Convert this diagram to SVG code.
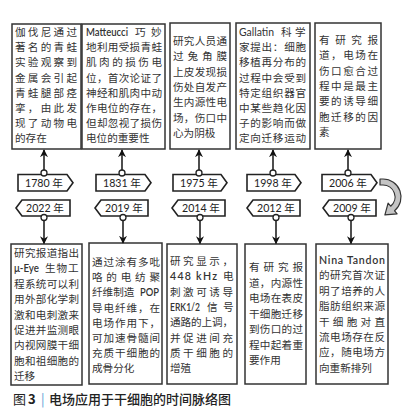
<svg xmlns="http://www.w3.org/2000/svg" width="410" height="417" viewBox="0 0 410 417">
<defs>
<style>
.box{fill:#fff;stroke:#333;stroke-width:1.5}
.t{font-family:Lato,"Noto Sans CJK SC",sans-serif;font-size:10.6px;fill:#333}
.b{font-weight:600}
.tag{fill:#fff;stroke:#222;stroke-width:1.6;stroke-linejoin:miter}
.yr{font-family:Lato,"Noto Sans CJK SC",sans-serif;font-size:10.6px;fill:#222;text-anchor:middle}
.ln{stroke:#222;stroke-width:1.6;fill:none}
.dot{fill:#fff;stroke:#222;stroke-width:1.3}
.cap{font-family:"Noto Sans CJK SC",sans-serif;font-size:13px;fill:#222}
</style>
<marker id="ah" viewBox="0 0 10 10" refX="9" refY="5" markerWidth="8" markerHeight="8" markerUnits="userSpaceOnUse" orient="auto">
<path d="M0,0 L10,5 L0,10 L3,5 z" fill="#111"/>
</marker>
</defs>
<rect width="410" height="417" fill="#fff"/>

<!-- top boxes -->
<g id="n1780">
<rect class="box" x="12" y="24" width="69" height="125"/>
<text class="t" x="15" y="36" textLength="62" lengthAdjust="spacing">伽伐尼通过</text>
<text class="t" x="15" y="51.2" textLength="62" lengthAdjust="spacing">著名的青蛙</text>
<text class="t" x="15" y="66.4" textLength="62" lengthAdjust="spacing">实验观察到</text>
<text class="t" x="15" y="81.6" textLength="62" lengthAdjust="spacing">金属会引起</text>
<text class="t" x="15" y="96.8" textLength="62" lengthAdjust="spacing">青蛙腿部痉</text>
<text class="t" x="15" y="112" textLength="62" lengthAdjust="spacing">挛，由此发</text>
<text class="t" x="15" y="127.2" textLength="62" lengthAdjust="spacing">现了动物电</text>
<text class="t" x="15" y="142.4">的存在</text>
</g>
<g id="n1831">
<rect class="box" x="82" y="24" width="83" height="125"/>
<text class="t b" x="86" y="36" textLength="42" lengthAdjust="spacingAndGlyphs">Matteucci</text>
<text class="t" x="135" y="36">巧</text>
<text class="t" x="151" y="36">妙</text>
<text class="t" x="86" y="51.2" textLength="76" lengthAdjust="spacing">地利用受损青蛙</text>
<text class="t" x="86" y="66.4" textLength="76" lengthAdjust="spacing">肌肉的损伤电</text>
<text class="t" x="86" y="81.6" textLength="76" lengthAdjust="spacing">位，首次论证了</text>
<text class="t" x="86" y="96.8" textLength="76" lengthAdjust="spacing">神经和肌肉中动</text>
<text class="t" x="86" y="112" textLength="76" lengthAdjust="spacing">作电位的存在，</text>
<text class="t" x="86" y="127.2" textLength="76" lengthAdjust="spacing">但却忽视了损伤</text>
<text class="t" x="86" y="142.4">电位的重要性</text>
</g>
<g id="n1975">
<rect class="box" x="170" y="23" width="60" height="126"/>
<text class="t" x="173" y="45" textLength="54" lengthAdjust="spacing">研究人员通</text>
<text class="t" x="173" y="60.3" textLength="54" lengthAdjust="spacing">过兔角膜</text>
<text class="t" x="173" y="75.6" textLength="54" lengthAdjust="spacing">上皮发现损</text>
<text class="t" x="173" y="90.9" textLength="54" lengthAdjust="spacing">伤处自发产</text>
<text class="t" x="173" y="106.2" textLength="54" lengthAdjust="spacing">生内源性电</text>
<text class="t" x="173" y="121.5" textLength="54" lengthAdjust="spacing">场，伤口中</text>
<text class="t" x="173" y="136.8">心为阴极</text>
</g>
<g id="n1998">
<rect class="box" x="236" y="23" width="74" height="126"/>
<text class="t" x="239" y="36" textLength="35" lengthAdjust="spacingAndGlyphs">Gallatin</text>
<text class="t" x="281" y="36">科</text>
<text class="t" x="295" y="36">学</text>
<text class="t" x="239" y="51.2" textLength="67" lengthAdjust="spacing">家提出：细胞</text>
<text class="t" x="239" y="66.4" textLength="67" lengthAdjust="spacing">移植再分布的</text>
<text class="t" x="239" y="81.6" textLength="67" lengthAdjust="spacing">过程中会受到</text>
<text class="t" x="239" y="96.8" textLength="67" lengthAdjust="spacing">特定组织器官</text>
<text class="t" x="239" y="112" textLength="67" lengthAdjust="spacing">中某些趋化因</text>
<text class="t" x="239" y="127.2" textLength="67" lengthAdjust="spacing">子的影响而做</text>
<text class="t" x="239" y="142.4" textLength="67" lengthAdjust="spacing">定向迁移运动</text>
</g>
<g id="n2006">
<rect class="box" x="315" y="23" width="66" height="126"/>
<text class="t" x="319" y="44" textLength="59" lengthAdjust="spacing">有研究报</text>
<text class="t" x="319" y="59.3" textLength="59" lengthAdjust="spacing">道，电场在</text>
<text class="t" x="319" y="74.6" textLength="59" lengthAdjust="spacing">伤口愈合过</text>
<text class="t" x="319" y="89.9" textLength="59" lengthAdjust="spacing">程中是最主</text>
<text class="t" x="319" y="105.2" textLength="59" lengthAdjust="spacing">要的诱导细</text>
<text class="t" x="319" y="120.5" textLength="59" lengthAdjust="spacing">胞迁移的因</text>
<text class="t" x="319" y="135.8">素</text>
</g>

<!-- bottom boxes -->
<g id="n2022">
<rect class="box" x="11" y="244" width="71" height="141"/>
<text class="t" x="14" y="257" textLength="65" lengthAdjust="spacing">研究报道指出</text>
<text class="t b" x="14" y="272.4" textLength="25" lengthAdjust="spacingAndGlyphs">μ-Eye</text>
<text class="t" x="45" y="272.4">生</text>
<text class="t" x="56.5" y="272.4">物</text>
<text class="t" x="68" y="272.4">工</text>
<text class="t" x="14" y="287.8" textLength="65" lengthAdjust="spacing">程系统可以利</text>
<text class="t" x="14" y="303.2" textLength="65" lengthAdjust="spacing">用外部化学刺</text>
<text class="t" x="14" y="318.6" textLength="65" lengthAdjust="spacing">激和电刺激来</text>
<text class="t" x="14" y="334" textLength="65" lengthAdjust="spacing">促进并监测眼</text>
<text class="t" x="14" y="349.4" textLength="65" lengthAdjust="spacing">内视网膜干细</text>
<text class="t" x="14" y="364.8" textLength="65" lengthAdjust="spacing">胞和祖细胞的</text>
<text class="t" x="14" y="380.2">迁移</text>
</g>
<g id="n2019">
<rect class="box" x="89" y="243" width="73" height="141"/>
<text class="t" x="92" y="266" textLength="68" lengthAdjust="spacing">通过涂有多吡</text>
<text class="t" x="92" y="281.2" textLength="68" lengthAdjust="spacing">咯的电纺聚</text>
<text class="t" x="92" y="296.4">纤维制造</text>
<text class="t b" x="140" y="296.4" textLength="19" lengthAdjust="spacingAndGlyphs">POP</text>
<text class="t" x="92" y="311.6" textLength="68" lengthAdjust="spacing">导电纤维，在</text>
<text class="t" x="92" y="326.8" textLength="68" lengthAdjust="spacing">电场作用下，</text>
<text class="t" x="92" y="342" textLength="68" lengthAdjust="spacing">可加速骨髓间</text>
<text class="t" x="92" y="357.2" textLength="68" lengthAdjust="spacing">充质干细胞的</text>
<text class="t" x="92" y="372.4">成骨分化</text>
</g>
<g id="n2014">
<rect class="box" x="167" y="244" width="70" height="140"/>
<text class="t" x="170" y="265" textLength="63" lengthAdjust="spacing">研究显示，</text>
<text class="t b" x="170" y="280.3" textLength="47" lengthAdjust="spacing">448 kHz</text>
<text class="t" x="223" y="280.3">电</text>
<text class="t" x="170" y="295.6" textLength="63" lengthAdjust="spacing">刺激可诱导</text>
<text class="t b" x="170" y="310.9" textLength="30" lengthAdjust="spacingAndGlyphs">ERK1/2</text>
<text class="t" x="207" y="310.9">信</text>
<text class="t" x="223" y="310.9">号</text>
<text class="t" x="170" y="326.2" textLength="63" lengthAdjust="spacing">通路的上调，</text>
<text class="t" x="170" y="341.5" textLength="63" lengthAdjust="spacing">并促进间充</text>
<text class="t" x="170" y="356.8" textLength="63" lengthAdjust="spacing">质干细胞的</text>
<text class="t" x="170" y="372.1">增殖</text>
</g>
<g id="n2012">
<rect class="box" x="245" y="244" width="61" height="140"/>
<text class="t" x="249" y="271" textLength="54" lengthAdjust="spacing">有研究报</text>
<text class="t" x="249" y="286.5" textLength="54" lengthAdjust="spacing">道，内源性</text>
<text class="t" x="249" y="302" textLength="54" lengthAdjust="spacing">电场在表皮</text>
<text class="t" x="249" y="317.5" textLength="54" lengthAdjust="spacing">干细胞迁移</text>
<text class="t" x="249" y="333" textLength="54" lengthAdjust="spacing">到伤口的过</text>
<text class="t" x="249" y="348.5" textLength="54" lengthAdjust="spacing">程中起着重</text>
<text class="t" x="249" y="364">要作用</text>
</g>
<g id="n2009">
<rect class="box" x="316" y="244" width="72" height="140"/>
<text class="t b" x="319" y="264" textLength="66" lengthAdjust="spacing">Nina Tandon</text>
<text class="t" x="319" y="279.4" textLength="66" lengthAdjust="spacing">的研究首次证</text>
<text class="t" x="319" y="294.8" textLength="66" lengthAdjust="spacing">明了培养的人</text>
<text class="t" x="319" y="310.2" textLength="66" lengthAdjust="spacing">脂肪组织来源</text>
<text class="t" x="319" y="325.6" textLength="66" lengthAdjust="spacing">干细胞对直</text>
<text class="t" x="319" y="341" textLength="66" lengthAdjust="spacing">流电场存在反</text>
<text class="t" x="319" y="356.4" textLength="66" lengthAdjust="spacing">应，随电场方</text>
<text class="t" x="319" y="371.8">向重新排列</text>
</g>

<!-- connectors -->
<g id="connectors">
<line class="ln" x1="44" y1="170" x2="44" y2="150" marker-end="url(#ah)"/>
<line class="ln" x1="122" y1="170" x2="122" y2="150" marker-end="url(#ah)"/>
<line class="ln" x1="199" y1="170" x2="199" y2="150" marker-end="url(#ah)"/>
<line class="ln" x1="273" y1="170" x2="273" y2="150" marker-end="url(#ah)"/>
<line class="ln" x1="348" y1="170" x2="348" y2="150" marker-end="url(#ah)"/>
<line class="ln" x1="44" y1="220" x2="44" y2="243.5" marker-end="url(#ah)"/>
<line class="ln" x1="123" y1="220" x2="123" y2="243" marker-end="url(#ah)"/>
<line class="ln" x1="200" y1="220" x2="200" y2="243.5" marker-end="url(#ah)"/>
<line class="ln" x1="276" y1="220" x2="276" y2="243.5" marker-end="url(#ah)"/>
<line class="ln" x1="351" y1="220" x2="351" y2="243.5" marker-end="url(#ah)"/>
<path d="M380,179 L383,179 A18,18 0 0 1 394.6,210.8 L397.1,213.9 L384.9,214.9 L388.1,203.1 L390.7,206.2 A12,12 0 0 0 383,185 L380,185 Z" fill="#c4c4c4" stroke="#333" stroke-width="1.2" stroke-linejoin="round"/>
</g>

<!-- year tags -->
<g id="y1780"><path class="tag" d="M18,174.5 H67 L73,182.8 L67,191 H18 Z"/><text class="yr" x="44" y="186.8">1780 年</text><circle class="dot" cx="44" cy="173" r="3"/></g>
<g id="y1831"><path class="tag" d="M96,174.5 H145 L151,182.8 L145,191 H96 Z"/><text class="yr" x="122" y="186.8">1831 年</text><circle class="dot" cx="122" cy="173" r="3"/></g>
<g id="y1975"><path class="tag" d="M173,174.5 H221 L227,182.8 L221,191 H173 Z"/><text class="yr" x="199" y="186.8">1975 年</text><circle class="dot" cx="199" cy="173" r="3"/></g>
<g id="y1998"><path class="tag" d="M247,174.5 H295 L301,182.8 L295,191 H247 Z"/><text class="yr" x="273" y="186.8">1998 年</text><circle class="dot" cx="273" cy="173" r="3"/></g>
<g id="y2006"><path class="tag" d="M322,174.5 H371 L377,182.8 L371,191 H322 Z"/><text class="yr" x="348" y="186.8">2006 年</text><circle class="dot" cx="348" cy="173" r="3"/></g>

<g id="y2022"><path class="tag" d="M16,208 L22,200 H70 V216 H22 Z"/><text class="yr" x="45" y="212">2022 年</text><circle class="dot" cx="44" cy="217.5" r="3"/></g>
<g id="y2019"><path class="tag" d="M95,208 L101,200 H148 V216 H101 Z"/><text class="yr" x="124" y="212">2019 年</text><circle class="dot" cx="123" cy="217.5" r="3"/></g>
<g id="y2014"><path class="tag" d="M172,208 L178,200 H225 V216 H178 Z"/><text class="yr" x="201" y="212">2014 年</text><circle class="dot" cx="200" cy="217.5" r="3"/></g>
<g id="y2012"><path class="tag" d="M247,208 L253,200 H300 V216 H253 Z"/><text class="yr" x="276" y="212">2012 年</text><circle class="dot" cx="276" cy="217.5" r="3"/></g>
<g id="y2009"><path class="tag" d="M323,208 L329,200 H376 V216 H329 Z"/><text class="yr" x="352" y="212">2009 年</text><circle class="dot" cx="351" cy="217.5" r="3"/></g>

<!-- caption -->
<g id="caption">
<text class="cap" x="13" y="404">图</text>
<text class="cap" x="28" y="404" font-weight="bold" font-family="Lato,sans-serif">3</text>
<text class="cap" x="41" y="403.5" fill="#5b9bd5" style="fill:#5b9bd5">|</text>
<text class="cap" x="49" y="404" font-weight="500">电场应用于干细胞的时间脉络图</text>
</g>
</svg>
